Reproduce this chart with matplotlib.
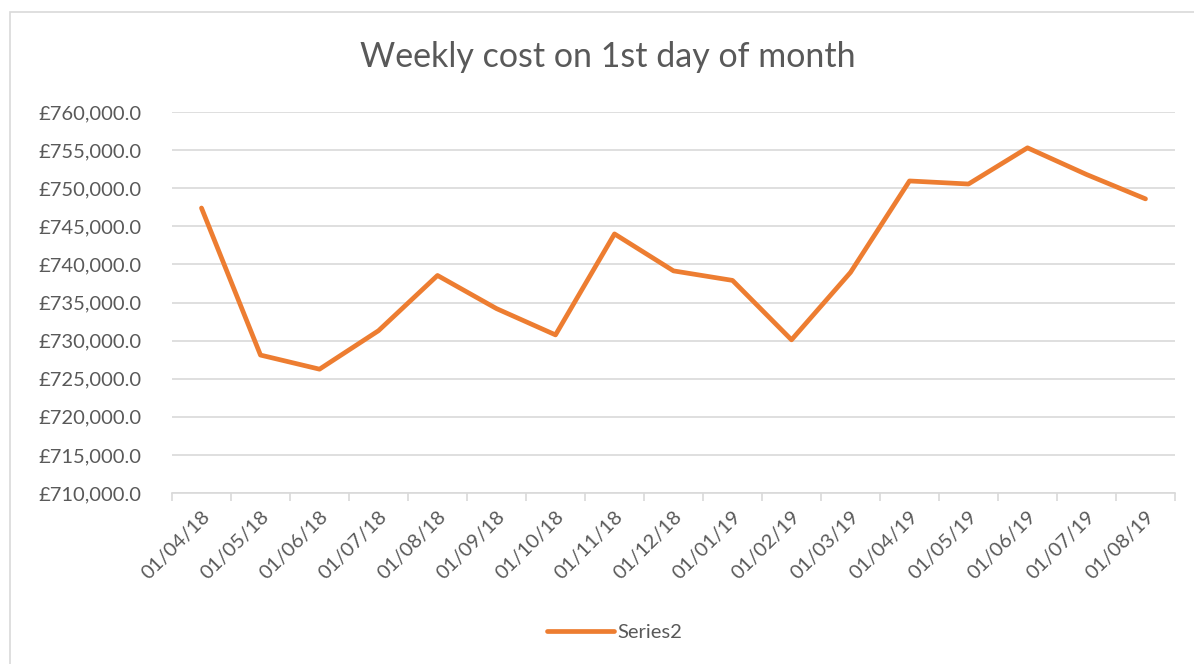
import matplotlib
matplotlib.use("Agg")
import matplotlib.pyplot as plt
from matplotlib.ticker import FuncFormatter, MultipleLocator
from matplotlib.patches import Rectangle

categories = ["01/04/18", "01/05/18", "01/06/18", "01/07/18", "01/08/18", "01/09/18",
              "01/10/18", "01/11/18", "01/12/18", "01/01/19", "01/02/19", "01/03/19",
              "01/04/19", "01/05/19", "01/06/19", "01/07/19", "01/08/19"]
values = [747400, 728100, 726250, 731300, 738550, 734200, 730750, 744000, 739150,
          737900, 730100, 738950, 750950, 750550, 755300, 751800, 748600]
series_name = "Series2"
title = "Weekly cost on 1st day of month"

plt.rcParams['font.family'] = ['Lato', 'DejaVu Sans']
grey = "#595959"

fig = plt.figure(figsize=(11.94, 6.64), dpi=100)
fig.patches.append(Rectangle((10/1194, -0.1), 1.2, 1 - 12/664 + 0.1, transform=fig.transFigure,
                             fill=False, edgecolor="#d9d9d9", linewidth=1.2))
ax = fig.add_axes([172/1194, 1 - 493/664, (1175 - 172)/1194, (493 - 112)/664])

x = list(range(len(categories)))
ax.plot(x, values, color="#ED7D31", linewidth=3.4, solid_capstyle="round",
        solid_joinstyle="round", label=series_name)
ax.set_xlim(-0.5, len(categories) - 0.5)
ax.set_ylim(710000, 760000)
ax.yaxis.set_major_locator(MultipleLocator(5000))
ax.yaxis.set_major_formatter(FuncFormatter(lambda v, p: "£{:,.1f}".format(v)))
ax.grid(axis="y", color="#d9d9d9", linewidth=1.2)
ax.set_axisbelow(True)
for s in ["top", "right", "left"]:
    ax.spines[s].set_visible(False)
ax.spines["bottom"].set_color("#d9d9d9")
ax.spines["bottom"].set_linewidth(1.2)

ax.set_xticks([i - 0.5 for i in range(len(categories) + 1)], minor=False)
ax.set_xticklabels([])
ax.tick_params(axis="x", which="major", length=6, color="#d9d9d9", width=1.2)
ax.set_xticks(x, minor=True)
ax.set_xticklabels(categories, minor=True, rotation=45, ha="right",
                   rotation_mode="anchor", fontsize=14.5, color=grey)
ax.tick_params(axis="x", which="minor", length=0, pad=11)
ax.tick_params(axis="y", length=0, labelsize=14.5, labelcolor=grey, pad=22)

fig.text(608/1194, 1 - 57/664, title, ha="center", va="center", fontsize=24.5, color=grey)
fig.legend(loc="center", bbox_to_anchor=(615/1194, 1 - 632/664), frameon=False,
           fontsize=14.5, labelcolor=grey, handlelength=3.3, handletextpad=0.2)

fig.savefig("out.png", dpi=100)
